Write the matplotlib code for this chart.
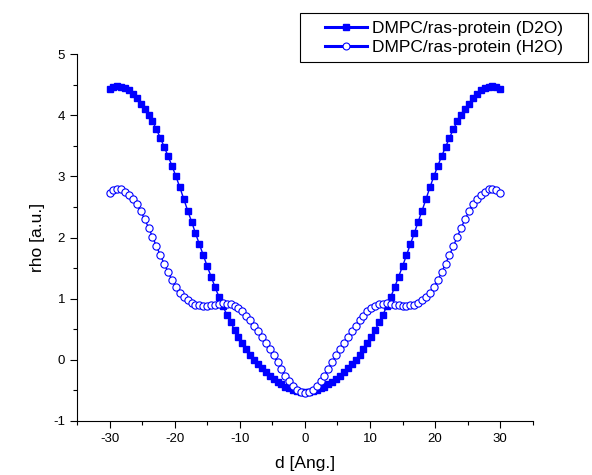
import matplotlib
matplotlib.use("Agg")
import matplotlib.pyplot as plt
from matplotlib.ticker import MultipleLocator
from matplotlib.lines import Line2D
from matplotlib.patches import Rectangle

plt.rcParams['font.family'] = ['Liberation Sans', 'DejaVu Sans']
plt.rcParams['axes.unicode_minus'] = False

# d positions [Ang.]
d = [-30.0, -29.4, -28.8, -28.2, -27.6, -27.0, -26.4, -25.8, -25.2, -24.6,
     -24.0, -23.4, -22.8, -22.2, -21.6, -21.0, -20.4, -19.8, -19.2, -18.6,
     -18.0, -17.4, -16.8, -16.2, -15.6, -15.0, -14.4, -13.8, -13.2, -12.6,
     -12.0, -11.4, -10.8, -10.2, -9.6, -9.0, -8.4, -7.8, -7.2, -6.6,
     -6.0, -5.4, -4.8, -4.2, -3.6, -3.0, -2.4, -1.8, -1.2, -0.6,
     0.0,
     0.6, 1.2, 1.8, 2.4, 3.0, 3.6, 4.2, 4.8, 5.4, 6.0,
     6.6, 7.2, 7.8, 8.4, 9.0, 9.6, 10.2, 10.8, 11.4, 12.0,
     12.6, 13.2, 13.8, 14.4, 15.0, 15.6, 16.2, 16.8, 17.4, 18.0,
     18.6, 19.2, 19.8, 20.4, 21.0, 21.6, 22.2, 22.8, 23.4, 24.0,
     24.6, 25.2, 25.8, 26.4, 27.0, 27.6, 28.2, 28.8, 29.4, 30.0]

rho_d2o = [4.43, 4.46, 4.48, 4.47, 4.45, 4.41, 4.35, 4.28, 4.19, 4.10,
           4.00, 3.90, 3.77, 3.63, 3.48, 3.33, 3.17, 3.00, 2.82, 2.63,
           2.44, 2.26, 2.07, 1.89, 1.71, 1.53, 1.36, 1.19, 1.03, 0.88,
           0.74, 0.61, 0.49, 0.37, 0.27, 0.17, 0.08, 0.00, -0.07, -0.14,
           -0.20, -0.26, -0.31, -0.36, -0.40, -0.44, -0.47, -0.49, -0.51, -0.52,
           -0.52,
           -0.52, -0.51, -0.49, -0.47, -0.44, -0.40, -0.36, -0.31, -0.26, -0.20,
           -0.14, -0.07, 0.00, 0.08, 0.17, 0.27, 0.37, 0.49, 0.61, 0.74,
           0.88, 1.03, 1.19, 1.36, 1.53, 1.71, 1.89, 2.07, 2.26, 2.44,
           2.63, 2.82, 3.00, 3.17, 3.33, 3.48, 3.63, 3.77, 3.90, 4.00,
           4.10, 4.19, 4.28, 4.35, 4.41, 4.45, 4.47, 4.48, 4.46, 4.43]

rho_h2o = [2.72, 2.78, 2.80, 2.79, 2.75, 2.70, 2.63, 2.54, 2.43, 2.30,
           2.16, 2.01, 1.86, 1.71, 1.57, 1.43, 1.30, 1.19, 1.10, 1.03,
           0.97, 0.93, 0.90, 0.89, 0.88, 0.88, 0.89, 0.90, 0.92, 0.93,
           0.92, 0.91, 0.88, 0.84, 0.79, 0.72, 0.65, 0.56, 0.47, 0.38,
           0.28, 0.18, 0.07, -0.04, -0.15, -0.26, -0.35, -0.43, -0.49, -0.53,
           -0.54,
           -0.53, -0.49, -0.43, -0.35, -0.26, -0.15, -0.04, 0.07, 0.18, 0.28,
           0.38, 0.47, 0.56, 0.65, 0.72, 0.79, 0.84, 0.88, 0.91, 0.92,
           0.93, 0.92, 0.90, 0.89, 0.88, 0.88, 0.89, 0.90, 0.93, 0.97,
           1.03, 1.10, 1.19, 1.30, 1.43, 1.57, 1.71, 1.86, 2.01, 2.16,
           2.30, 2.43, 2.54, 2.63, 2.70, 2.75, 2.79, 2.80, 2.78, 2.72]

labels = ["DMPC/ras-protein (D2O)", "DMPC/ras-protein (H2O)"]
blue = '#0000ff'

fig = plt.figure(figsize=(5.92, 4.75), dpi=100)
ax = fig.add_axes([0.130, 0.114, 0.770, 0.772])

ax.plot(d, rho_d2o, '-', color=blue, lw=1.0, marker='s', ms=4.6,
        mfc=blue, mec=blue)
ax.plot(d, rho_h2o, '-', color=blue, lw=1.0, marker='o', ms=5.2,
        mfc='white', mec=blue, mew=0.8)

ax.set_xlim(-35, 35)
ax.set_ylim(-1, 5)
ax.xaxis.set_major_locator(MultipleLocator(10))
ax.xaxis.set_minor_locator(MultipleLocator(5))
ax.yaxis.set_major_locator(MultipleLocator(1))
ax.yaxis.set_minor_locator(MultipleLocator(0.5))
ax.spines['top'].set_visible(False)
ax.spines['right'].set_visible(False)
ax.tick_params(which='major', direction='out', length=5, width=0.8, labelsize=9.5)
ax.tick_params(which='minor', direction='out', length=3, width=0.8)

ax.set_xlabel("d [Ang.]", fontsize=12.5, labelpad=8)
ax.set_ylabel("rho [a.u.]", fontsize=12.5, labelpad=6)

# legend like Origin: thick short line, marker, frame box
handles = [Line2D([], [], color=blue, lw=2.2, marker='s', ms=4.5, mfc=blue, mec=blue),
           Line2D([], [], color=blue, lw=2.2, marker='o', ms=5.0, mfc='white', mec=blue, mew=0.8)]
fig.legend(handles, labels, loc='center', bbox_to_anchor=(444 / 592, 1 - 38 / 475),
           fontsize=12.5, numpoints=1, handlelength=2.4, frameon=False,
           labelspacing=0.25, handletextpad=0.25, borderpad=0)
fig.patches.append(Rectangle((300 / 592, 1 - 62 / 475), 288 / 592, 49 / 475,
                             transform=fig.transFigure, fill=False,
                             edgecolor='black', lw=0.8))

fig.savefig("out.png", dpi=100)
